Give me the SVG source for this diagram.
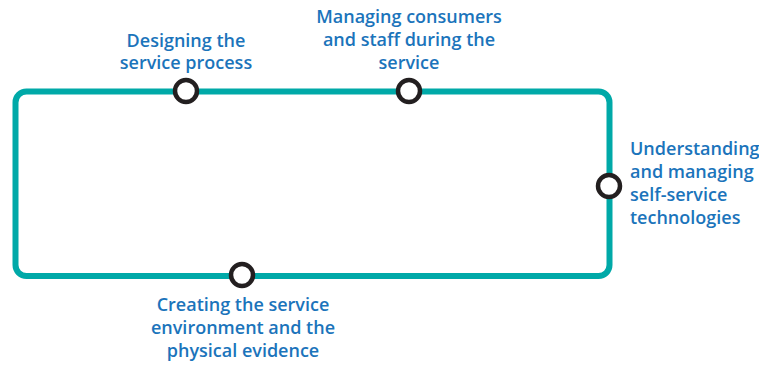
<svg xmlns="http://www.w3.org/2000/svg" width="759" height="365" viewBox="0 0 759 365">
<style>
.frame{fill:none;stroke:#00a9a8;stroke-width:6}
.node{fill:#fff;stroke:#231f20;stroke-width:4.5}
.lbl{font-family:"Open Sans","Liberation Sans",Arial,sans-serif;font-size:18px;fill:#1b74bb;font-weight:600}
.c{text-anchor:middle}
</style>
<rect width="759" height="365" fill="#fff"/>
<g id="connectors">
<rect class="frame" x="15.5" y="91.5" width="594" height="184.5" rx="11" ry="11"/>
</g>
<g id="n1">
<circle class="node" cx="186" cy="91" r="11"/>
<text class="lbl c" x="186" y="47">Designing the</text>
<text class="lbl c" x="186" y="69">service process</text>
</g>
<g id="n2">
<circle class="node" cx="409" cy="91" r="11"/>
<text class="lbl c" x="409" y="23">Managing consumers</text>
<text class="lbl c" x="409" y="46">and staff during the</text>
<text class="lbl c" x="409" y="69">service</text>
</g>
<g id="n3">
<circle class="node" cx="609" cy="186" r="11"/>
<text class="lbl" x="630" y="155">Understanding</text>
<text class="lbl" x="630" y="178">and managing</text>
<text class="lbl" x="630" y="201">self-service</text>
<text class="lbl" x="630" y="224">technologies</text>
</g>
<g id="n4">
<circle class="node" cx="242" cy="275" r="11"/>
<text class="lbl c" x="243" y="311">Creating the service</text>
<text class="lbl c" x="243" y="334">environment and the</text>
<text class="lbl c" x="243" y="357">physical evidence</text>
</g>
</svg>
